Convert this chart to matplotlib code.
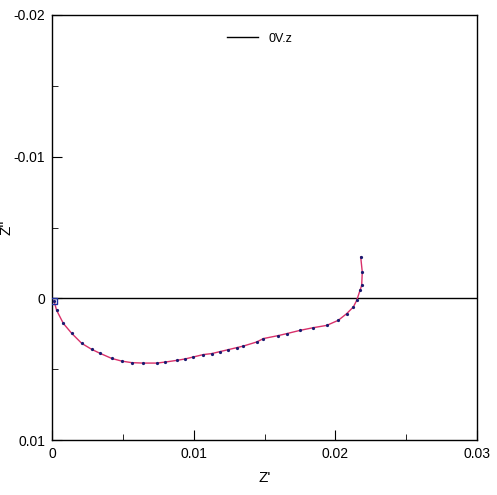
import numpy as np
import matplotlib
matplotlib.use('Agg')
import matplotlib.pyplot as plt
from matplotlib.ticker import MultipleLocator, FuncFormatter

plt.rcParams['font.family'] = ['Liberation Sans', 'DejaVu Sans']
plt.rcParams['axes.unicode_minus'] = False

# Z' and Z'' (0V.z)
zre = [0.00014, 0.00033, 0.0008, 0.00139, 0.0021, 0.0028, 0.00339, 0.00421,
       0.00492, 0.00563, 0.00644, 0.00739, 0.00798, 0.0088, 0.00939, 0.00997,
       0.01068, 0.01127, 0.01186, 0.01245, 0.01304, 0.0135, 0.01445, 0.01492,
       0.01597, 0.01657, 0.01751, 0.01845, 0.01939, 0.02021, 0.0208, 0.02127,
       0.02151, 0.02174, 0.02186, 0.0219, 0.02179]
zim = [0.00019, 0.00085, 0.00177, 0.00247, 0.00318, 0.0036, 0.00388, 0.00424,
       0.00443, 0.00454, 0.00457, 0.00457, 0.0045, 0.00438, 0.00428, 0.00414,
       0.00397, 0.0039, 0.00376, 0.00362, 0.00348, 0.00337, 0.00308, 0.00284,
       0.00263, 0.00249, 0.00226, 0.00207, 0.00191, 0.00155, 0.00108, 0.00061,
       0.00014, -0.00056, -0.00092, -0.00186, -0.00292]

fig = plt.figure(figsize=(4.97, 4.95), dpi=100)
ax = fig.add_axes([0.1046, 0.1111, 0.8552, 0.8586])

ax.axhline(0, color='black', lw=1.0, zorder=1)
ax.plot(zre, zim, color='#d8306a', lw=1.0, zorder=2)
ax.plot(zre, zim, ls='none', marker='o', ms=1.3, color='#1a1a70', zorder=3)
ax.plot([zre[0]], [zim[0]], ls='none', marker='s', ms=5, mfc='none',
        mec='#2030a0', mew=1.0, zorder=4)
# legend handle only
ax.plot([], [], color='black', lw=1.0, label='0V.z')

ax.set_xlim(0, 0.03)
ax.set_ylim(0.01, -0.02)
ax.xaxis.set_major_locator(MultipleLocator(0.01))
ax.xaxis.set_minor_locator(MultipleLocator(0.005))
ax.yaxis.set_major_locator(MultipleLocator(0.01))
ax.yaxis.set_minor_locator(MultipleLocator(0.005))
fmt = FuncFormatter(lambda v, p: '%g' % round(v, 4))
ax.xaxis.set_major_formatter(fmt)
ax.yaxis.set_major_formatter(fmt)
ax.tick_params(which='both', direction='in', top=False, right=False,
               labelsize=10)
ax.tick_params(which='major', length=7, pad=5)
ax.tick_params(which='minor', length=4)
for s in ax.spines.values():
    s.set_linewidth(1.0)

ax.set_xlabel("Z'", fontsize=11, labelpad=7)
ax.set_ylabel("Z''", fontsize=11)
ax.yaxis.set_label_coords(-0.09, 0.5)

ax.legend(loc='upper left', bbox_to_anchor=(0.385, 0.985), frameon=False,
          fontsize=9, handlelength=2.5)

fig.savefig('out.png', dpi=100)
